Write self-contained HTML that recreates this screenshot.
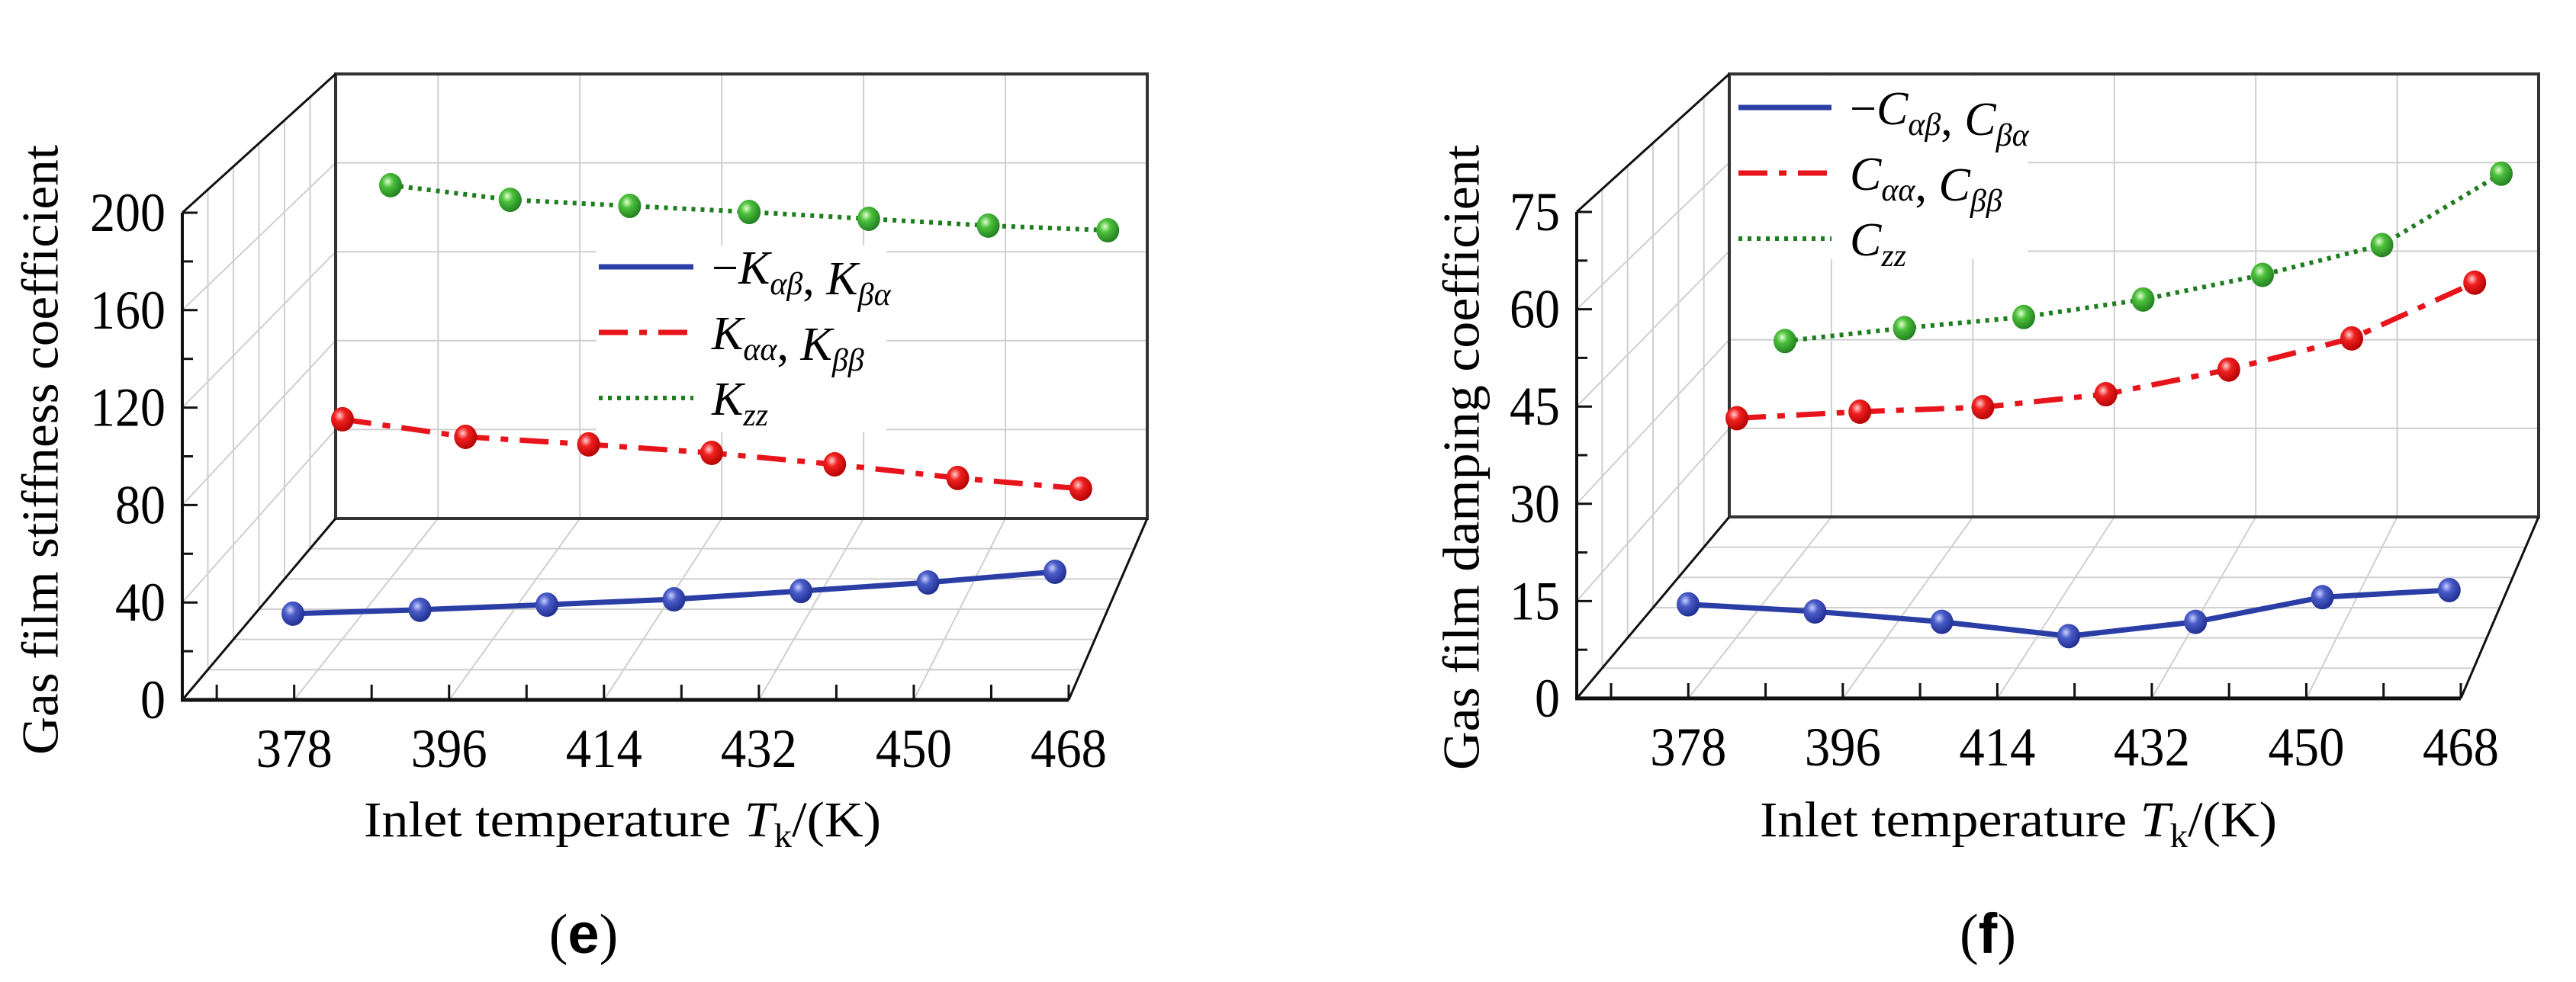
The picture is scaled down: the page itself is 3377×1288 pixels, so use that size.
<!DOCTYPE html>
<html><head><meta charset="utf-8"><style>
html,body{margin:0;padding:0;background:#fff;}
svg{display:block;font-family:"Liberation Serif",serif;}
</style></head><body>
<svg id="fig" width="3377" height="1288" viewBox="0 0 3377 1288" xmlns="http://www.w3.org/2000/svg">
<defs>
<radialGradient id="gBlue" cx="0.38" cy="0.35" r="0.7"><stop offset="0" stop-color="#c8d0ff"/><stop offset="0.35" stop-color="#4a5cc8"/><stop offset="1" stop-color="#1c2a8a"/></radialGradient>
<radialGradient id="gRed" cx="0.38" cy="0.35" r="0.7"><stop offset="0" stop-color="#ffd0d0"/><stop offset="0.35" stop-color="#f02020"/><stop offset="1" stop-color="#b00000"/></radialGradient>
<radialGradient id="gGreen" cx="0.38" cy="0.35" r="0.7"><stop offset="0" stop-color="#e0ffd0"/><stop offset="0.35" stop-color="#4cc03c"/><stop offset="1" stop-color="#1e7a1e"/></radialGradient>
</defs>
<g id="panelE"></g>
<g id="panelF"></g>

<text x="60" y="590" transform="rotate(-90 60 590)" text-anchor="middle" dominant-baseline="middle" font-size="68" textLength="800" lengthAdjust="spacingAndGlyphs">Gas film stiffness coefficient</text>
<text x="816" y="1097" text-anchor="middle" font-size="66" textLength="678" lengthAdjust="spacingAndGlyphs">Inlet temperature <tspan font-style="italic">T</tspan><tspan font-size="44" dy="14">k</tspan><tspan dy="-14">/(K)</tspan></text>
<text x="765" y="1250" text-anchor="middle" font-size="74">(<tspan font-weight="bold" font-family="Liberation Sans, sans-serif">e</tspan>)</text>

<text x="1923" y="600" transform="rotate(-90 1923 600)" text-anchor="middle" dominant-baseline="middle" font-size="68" textLength="820" lengthAdjust="spacingAndGlyphs">Gas film damping coefficient</text>
<text x="2646" y="1097" text-anchor="middle" font-size="66" textLength="678" lengthAdjust="spacingAndGlyphs">Inlet temperature <tspan font-style="italic">T</tspan><tspan font-size="44" dy="14">k</tspan><tspan dy="-14">/(K)</tspan></text>
<text x="2606" y="1250" text-anchor="middle" font-size="74">(<tspan font-weight="bold" font-family="Liberation Sans, sans-serif">f</tspan>)</text>
</svg>
<script>
// ---- data ----
const temps = [378, 393, 408, 423, 438, 453, 468];
const xTickLabels = [378, 396, 414, 432, 450, 468];
const kTicks = [0, 40, 80, 120, 160, 200];
const cTicks = [0, 15, 30, 45, 60, 75];
const kCross = [35.4, 37.0, 39.1, 41.3, 44.7, 48.2, 52.6];
const kDirect = [115.2, 108.0, 104.9, 101.4, 96.7, 91.1, 86.7];
const kZZ = [211.3, 205.3, 202.8, 200.3, 197.5, 194.7, 192.8];
const cCross = [14.5, 13.4, 11.8, 9.6, 11.8, 15.6, 16.7];
const cDirect = [43.2, 44.2, 44.9, 46.9, 50.7, 55.5, 64.1];
const cZZ = [55.1, 57.1, 58.8, 61.5, 65.3, 69.9, 80.9];

const NS = "http://www.w3.org/2000/svg";
function mk(parent, tag, attrs) {
  const e = document.createElementNS(NS, tag);
  for (const k in attrs) e.setAttribute(k, attrs[k]);
  parent.appendChild(e);
  return e;
}

function drawPanel(g, P, ticks, minorStep, series, legendRows, legendBox) {
  const tMin = 365, tMax = 468;
  const fx = t => P.fx0 + (t - tMin) / (tMax - tMin) * (P.fx1 - P.fx0);
  const bx = t => P.bx0 + (t - tMin) / (tMax - tMin) * (P.bx1 - P.bx0);
  const vMax = ticks[ticks.length - 1];
  const fy = v => P.fy0 - v / vMax * (P.fy0 - P.fyTop);
  const by = v => P.by0 - v / vMax * (P.by0 - P.byTop);
  const grid = {stroke: "#cfcfcf", "stroke-width": 2, fill: "none"};
  ticks.slice(1, -1).forEach(v => {
    const l = mk(g, "line", Object.assign({x1: P.bx0, y1: by(v), x2: P.bx1, y2: by(v)}, grid));
    
    
  });
  xTickLabels.slice(0, -1).forEach(t => {
    const l = mk(g, "line", Object.assign({x1: bx(t), y1: P.byTop, x2: bx(t), y2: P.by0}, grid));
    
    
    const f = mk(g, "line", Object.assign({x1: fx(t), y1: P.fy0, x2: bx(t), y2: P.by0}, grid));
    
    
  });
  for (let k = 1; k < 6; k++) {
    const d = k / 6;
    const y = P.fy0 + (P.by0 - P.fy0) * d;
    const xl = P.fx0 + (P.bx0 - P.fx0) * d;
    const xr = P.fx1 + (P.bx1 - P.fx1) * d;
    const l = mk(g, "line", Object.assign({x1: xl, y1: y, x2: xr, y2: y}, grid));
    
    
    const ytop = P.fyTop + (P.byTop - P.fyTop) * d;
    const w = mk(g, "line", Object.assign({x1: xl, y1: ytop, x2: xl, y2: y}, grid));
    
    
  }
  ticks.slice(1, -1).forEach(v => {
    const l = mk(g, "line", Object.assign({x1: P.fx0, y1: fy(v), x2: P.bx0, y2: by(v)}, grid));
    
    
  });
  const lb = mk(g, "rect", {x: legendBox[0], y: legendBox[1], width: legendBox[2], height: legendBox[3], fill: "#fff"});
  
  
  const bf = mk(g, "rect", {x: P.bx0, y: P.byTop, width: P.bx1 - P.bx0, height: P.by0 - P.byTop, fill: "none", stroke: "#333", "stroke-width": 4});
  
  
  const edges = [[P.fx0, P.fyTop, P.bx0, P.byTop], [P.fx0, P.fy0, P.bx0, P.by0], [P.fx1, P.fy0, P.bx1, P.by0]];
  edges.forEach(e => {
    const l = mk(g, "line", {x1: e[0], y1: e[1], x2: e[2], y2: e[3], stroke: "#111", "stroke-width": 3});
    
    
  });
  const ya = mk(g, "line", {x1: P.fx0, y1: P.fyTop, x2: P.fx0, y2: P.fy0, stroke: "#111", "stroke-width": 4});
  
  
  const xa = mk(g, "line", {x1: P.fx0 - 2, y1: P.fy0, x2: P.fx1, y2: P.fy0, stroke: "#111", "stroke-width": 5});
  
  
  for (let v = 0; v <= vMax + 1e-6; v += minorStep) {
    const major = ticks.some(t => Math.abs(t - v) < 1e-6);
    const t = mk(g, "line", {x1: P.fx0, y1: fy(v), x2: P.fx0 + (major ? 20 : 14), y2: fy(v), stroke: "#111", "stroke-width": 3});
    
    
  }
  ticks.forEach(v => {
    const s = String(v);
    const t = mk(g, "text", {x: P.fx0 - 22, y: fy(v) + 24, "text-anchor": "end", "font-size": 72, textLength: 33 * s.length, lengthAdjust: "spacingAndGlyphs"});
    t.textContent = s;
    
    
  });
  for (let tv = 369; tv <= 468; tv += 9) {
    const t = mk(g, "line", {x1: fx(tv), y1: P.fy0, x2: fx(tv), y2: P.fy0 - 20, stroke: "#111", "stroke-width": 3});
    
    
  }
  xTickLabels.forEach(tv => {
    const t = mk(g, "text", {x: fx(tv), y: P.fy0 + 88, "text-anchor": "middle", "font-size": 72, textLength: 100, lengthAdjust: "spacingAndGlyphs"});
    t.textContent = tv;
    
    
  });
  series.forEach(s => {
    const pts = s.vals.map((v, i) => [s.x0 + i * s.dx, fy(v)]);
    const pl = mk(g, "polyline", {points: pts.map(p => p.join(",")).join(" "), fill: "none", stroke: s.color, "stroke-width": s.w, "stroke-dasharray": s.dash, "stroke-linejoin": "round"});
    
    
    pts.forEach(p => {
      const c = mk(g, "ellipse", {cx: p[0], cy: p[1], rx: 15, ry: 16, fill: "url(#" + s.grad + ")"});
      
      
    });
  });
  legendRows.forEach((r, i) => {
    const y = legendBox[4] + i * legendBox[5];
    const l = mk(g, "line", {x1: legendBox[6], y1: y, x2: legendBox[6] + legendBox[7], y2: y, stroke: series[i].color, "stroke-width": series[i].w, "stroke-dasharray": series[i].dash});
    
    
    const t = mk(g, "text", {x: legendBox[6] + legendBox[7] + 24, y: y + 22, "font-size": 62});
    t.innerHTML = r;
    
    
  });
}

function sym(L, a) { return '<tspan font-style="italic">' + L + '</tspan><tspan font-style="italic" font-size="42" dy="14">' + a + '</tspan><tspan dy="-14"></tspan>'; }

drawPanel(document.getElementById("panelE"),
  {fx0: 239, fx1: 1401, fy0: 918, fyTop: 279, bx0: 440, bx1: 1504, by0: 680, byTop: 97},
  kTicks, 20,
  [
    {name: "k-cross", vals: kCross, x0: 384, dx: 166.5, color: "#2b3ea6", w: 7, dash: "none", grad: "gBlue"},
    {name: "k-direct", vals: kDirect, x0: 449, dx: 161.3, color: "#e8141b", w: 7, dash: "38 15 10 15", grad: "gRed"},
    {name: "k-zz", vals: kZZ, x0: 512, dx: 156.7, color: "#1e7d1e", w: 6, dash: "5 7", grad: "gGreen"}
  ],
  ["−" + sym("K", "αβ") + ", " + sym("K", "βα"), sym("K", "αα") + ", " + sym("K", "ββ"), sym("K", "zz")],
  [782, 322, 380, 245, 350, 86, 785, 124]);

drawPanel(document.getElementById("panelF"),
  {fx0: 2067, fx1: 3226, fy0: 916, fyTop: 278, bx0: 2267, bx1: 3328, by0: 678, byTop: 97},
  cTicks, 7.5,
  [
    {name: "c-cross", vals: cCross, x0: 2213, dx: 166.3, color: "#2b3ea6", w: 7, dash: "none", grad: "gBlue"},
    {name: "c-direct", vals: cDirect, x0: 2277, dx: 161.2, color: "#e8141b", w: 7, dash: "38 15 10 15", grad: "gRed"},
    {name: "c-zz", vals: cZZ, x0: 2340, dx: 156.5, color: "#1e7d1e", w: 6, dash: "5 7", grad: "gGreen"}
  ],
  ["−" + sym("C", "αβ") + ", " + sym("C", "βα"), sym("C", "αα") + ", " + sym("C", "ββ"), sym("C", "zz")],
  [2270, 100, 388, 240, 141, 86, 2279, 122]);
</script>
</body></html>
